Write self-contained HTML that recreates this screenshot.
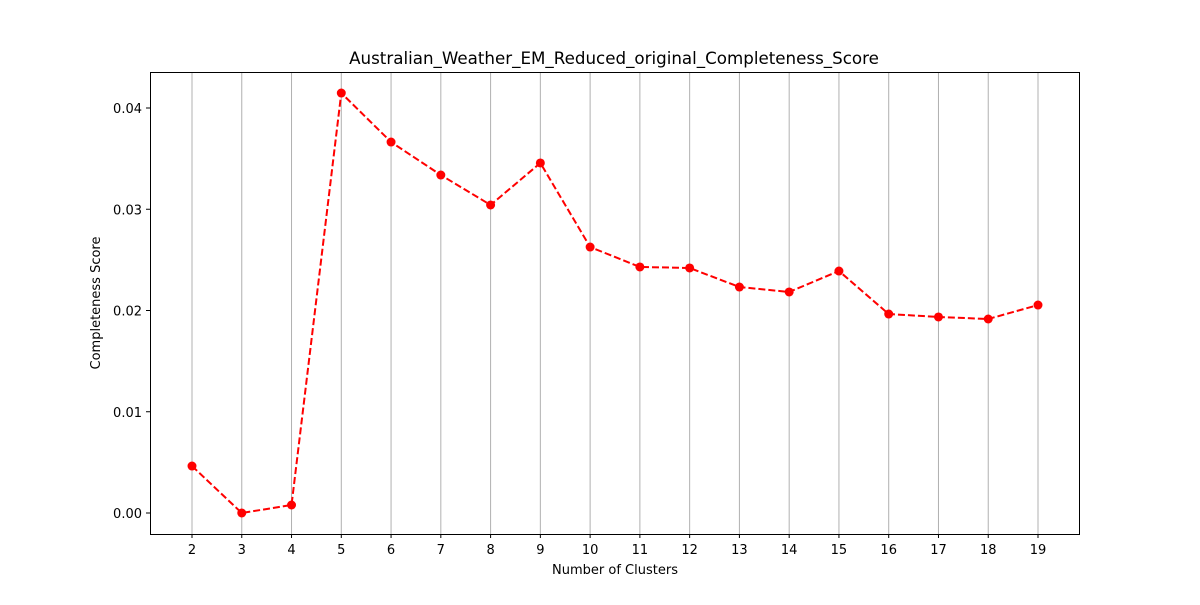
<!DOCTYPE html>
<html><head><meta charset="utf-8"><style>
body{margin:0;background:#fff;}
svg text{font-family:"DejaVu Sans","Liberation Sans",sans-serif;}
</style></head><body>
<svg id="chart" width="1200" height="600" xmlns="http://www.w3.org/2000/svg">
<rect width="1200" height="600" fill="#fff"/>
<text x="614" y="64" text-anchor="middle" font-size="16.7">Australian_Weather_EM_Reduced_original_Completeness_Score</text>
<g id="grid"></g><g id="xticks"></g><g id="yticks"></g><g id="series"></g>
<rect x="150.5" y="72.5" width="929" height="462" fill="none" stroke="#000" stroke-width="1"/>
<text x="615" y="574" text-anchor="middle" font-size="13">Number of Clusters</text>
<text transform="translate(100,303) rotate(-90)" text-anchor="middle" font-size="13">Completeness Score</text>
</svg>
<script>
const categories=[2,3,4,5,6,7,8,9,10,11,12,13,14,15,16,17,18,19];
const scores=[0.00464,0.0,0.00079,0.04148,0.03664,0.03338,0.03042,0.03457,0.02627,0.0243,0.0242,0.02232,0.02183,0.0239,0.01965,0.01936,0.01916,0.02054];
const yTickValues=[0.00,0.01,0.02,0.03,0.04];
const yTickLabels=["0.00","0.01","0.02","0.03","0.04"];
const NS="http://www.w3.org/2000/svg";
function xScale(v){return 192+(v-2)*(1038-192)/17;}
function yScale(v){return 513-v*(513-108)/0.04;}
function mk(tag,attrs,parent){const e=document.createElementNS(NS,tag);for(const k in attrs)e.setAttribute(k,attrs[k]);document.getElementById(parent).appendChild(e);return e;}
categories.forEach(c=>{
  const x=xScale(c);
  const g=mk('line',{x1:x,x2:x,y1:72,y2:534,stroke:'#b0b0b0','stroke-width':1},'grid');
  
  
  const t=mk('line',{x1:x,x2:x,y1:534,y2:538,stroke:'#000'},'xticks');
  
  
  const l=mk('text',{x:x,y:554,'text-anchor':'middle','font-size':13},'xticks');
  l.textContent=c;
  
  
});
yTickValues.forEach((v,i)=>{
  const y=yScale(v);
  const t=mk('line',{x1:146,x2:150,y1:y,y2:y,stroke:'#000'},'yticks');
  
  
  const l=mk('text',{x:142,y:y+5,'text-anchor':'end','font-size':13},'yticks');
  l.textContent=yTickLabels[i];
  
  
});
const pts=categories.map((c,i)=>xScale(c)+','+yScale(scores[i])).join(' ');
const line=mk('polyline',{points:pts,fill:'none',stroke:'#ff0000','stroke-width':2,'stroke-dasharray':'7,3'},'series');


categories.forEach((c,i)=>{
  const p=mk('circle',{cx:xScale(c),cy:yScale(scores[i]),r:4.5,fill:'#ff0000'},'series');
  
  
});
</script>
</body></html>
